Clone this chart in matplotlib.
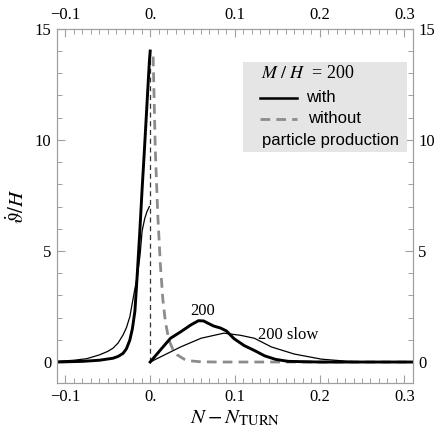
import matplotlib
matplotlib.use("Agg")
import matplotlib.pyplot as plt
from matplotlib.lines import Line2D
from matplotlib.patches import Rectangle
from matplotlib.ticker import MultipleLocator

plt.rcParams["font.family"] = ["Liberation Serif", "DejaVu Serif"]
plt.rcParams["mathtext.fontset"] = "stix"

# with particle production, M/H = 200 (thick), before and after the turn
x_fast_pre = [-0.11, -0.08, -0.06, -0.044, -0.038, -0.032, -0.028, -0.024, -0.021,
              -0.018, -0.0155, -0.0125, -0.0095, -0.0068, -0.0035, -0.001, 0.0]
y_fast_pre = [0.0, 0.03, 0.08, 0.17, 0.25, 0.39, 0.6, 0.99, 1.5,
              2.3, 3.8, 5.7, 7.8, 9.55, 11.8, 13.5, 14.0]
x_fast_post = [0.0, 0.012, 0.024, 0.036, 0.048, 0.057, 0.063, 0.068, 0.075, 0.083,
               0.09, 0.099, 0.111, 0.123, 0.135, 0.148, 0.163, 0.2, 0.25, 0.31]
y_fast_post = [0.0, 0.54, 1.07, 1.36, 1.67, 1.86, 1.85, 1.75, 1.62, 1.53,
               1.4, 1.05, 0.74, 0.52, 0.28, 0.12, 0.03, 0.0, 0.0, 0.0]

# 200 slow (thin)
x_slow_pre = [-0.11, -0.09, -0.075, -0.06, -0.05, -0.044, -0.038, -0.032, -0.028,
              -0.024, -0.019, -0.015, -0.012, -0.0095, -0.0065, -0.004, -0.001]
y_slow_pre = [0.03, 0.08, 0.15, 0.32, 0.48, 0.62, 0.85, 1.22, 1.55,
              2.04, 3.1, 3.9, 4.8, 5.9, 6.45, 6.75, 7.0]
x_slow_post = [0.0, 0.036, 0.06, 0.087, 0.107, 0.123, 0.143, 0.17, 0.202, 0.234,
               0.26, 0.31]
y_slow_post = [0.0, 0.68, 1.07, 1.3, 1.2, 1.07, 0.68, 0.36, 0.13, 0.03,
               0.0, 0.0]

# without particle production (gray dashed)
x_free = [0.0035, 0.006, 0.009, 0.012, 0.015, 0.018, 0.022, 0.027, 0.032, 0.04,
          0.048, 0.06, 0.08, 0.31]
y_free = [13.75, 9.6, 6.6, 4.4, 2.8, 1.8, 1.0, 0.55, 0.32, 0.13,
          0.05, 0.01, 0.0, 0.0]

# turn marker
x_turn = [0.0, 0.0]
y_turn = [0.0, 14.0]

xticks = [-0.1, 0.0, 0.1, 0.2, 0.3]
xticklabels = ["\u22120.1", "0.", "0.1", "0.2", "0.3"]
yticks = [0, 5, 10, 15]
yticklabels = ["0", "5", "10", "15"]

fig = plt.figure(figsize=(4.35, 4.3), dpi=100)
ax = fig.add_axes([0.131, 0.109, 0.818, 0.824])

frame = "#a0a0a0"
ax.plot(x_turn, y_turn, color="#333333", lw=0.9, ls=(0, (4, 3)))
ax.plot(x_free, y_free, color="#8c8c8c", lw=2.0, ls=(0, (3.5, 2.2)))
ax.plot(x_slow_pre, y_slow_pre, color="black", lw=0.9)
ax.plot(x_slow_post, y_slow_post, color="black", lw=0.9)
ax.plot(x_fast_pre, y_fast_pre, color="black", lw=2.1)
ax.plot(x_fast_post, y_fast_post, color="black", lw=2.1)

ax.text(0.062, 2.3, "200", fontsize=12, ha="center", va="center")
ax.text(0.163, 1.2, "200 slow", fontsize=12, ha="center", va="center")

ax.set_xlim(-0.11, 0.31)
ax.set_ylim(-0.95, 15)
ax.set_xticks(xticks)
ax.set_xticklabels(xticklabels)
ax.set_yticks(yticks)
ax.set_yticklabels(yticklabels)
ax.xaxis.set_minor_locator(MultipleLocator(0.01))
ax.yaxis.set_minor_locator(MultipleLocator(1))
ax.tick_params(which="both", direction="in", top=True, right=True,
               labeltop=True, labelright=True, color=frame, labelsize=12, pad=4)
ax.tick_params(which="major", length=6, width=0.8)
ax.tick_params(which="minor", length=3.5, width=0.7)
for s in ax.spines.values():
    s.set_color(frame)
    s.set_linewidth(0.9)

ax.set_xlabel(r"$N - N_{\mathrm{TURN}}$", fontsize=15, labelpad=3)
ax.set_ylabel(r"$\dot{\vartheta}/H$", fontsize=15, labelpad=4)

# legend box
ax.add_patch(Rectangle((0.522, 0.653), 0.461, 0.254, transform=ax.transAxes,
                       facecolor="#e5e5e5", edgecolor="none", zorder=3))
ax.text(0.574, 0.874, r"$M\ /\ H\ $ = 200", transform=ax.transAxes, fontsize=13,
        va="center", ha="left", zorder=4)
ax.add_line(Line2D([0.57, 0.675], [0.806, 0.806], transform=ax.transAxes,
                   color="black", lw=1.8, zorder=4))
ax.text(0.70, 0.806, "with", transform=ax.transAxes, fontsize=12, family="Liberation Sans",
        va="center", ha="left", zorder=4)
ax.add_line(Line2D([0.57, 0.675], [0.746, 0.746], transform=ax.transAxes,
                   color="#8c8c8c", lw=2.0, ls=(0, (3.5, 2.2)), zorder=4))
ax.text(0.705, 0.746, "without", transform=ax.transAxes, fontsize=12, family="Liberation Sans",
        va="center", ha="left", zorder=4)
ax.text(0.576, 0.684, "particle production", transform=ax.transAxes, fontsize=12,
        family="Liberation Sans", va="center", ha="left", zorder=4)

fig.savefig("out.png", dpi=100)
